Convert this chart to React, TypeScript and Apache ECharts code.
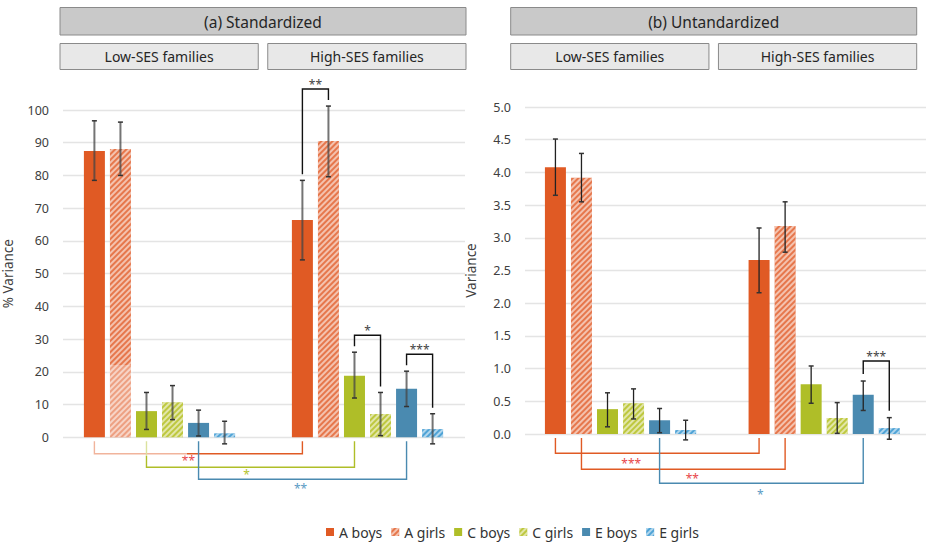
import React, { useEffect, useRef } from 'react';
import * as echarts from 'echarts';

// ---------- data ----------
const seriesNames = ['A boys', 'A girls', 'C boys', 'C girls', 'E boys', 'E girls'];
const groups = ['Low-SES families', 'High-SES families'];

// (a) Standardized, % variance
const stdLow = [87.5, 88.1, 8.0, 10.7, 4.4, 1.2];
const stdHigh = [66.4, 90.5, 18.8, 7.1, 14.8, 2.5];
const stdLowCI = [[78.5, 96.7], [80.0, 96.3], [2.4, 13.7], [5.4, 15.8], [0.4, 8.3], [-2.0, 4.9]];
const stdHighCI = [[54.2, 78.5], [79.6, 101.2], [12.0, 26.0], [0.5, 13.7], [9.4, 20.2], [-2.0, 7.2]];

// (b) Unstandardized, variance
const unLow = [4.08, 3.92, 0.38, 0.47, 0.21, 0.06];
const unHigh = [2.66, 3.18, 0.76, 0.245, 0.6, 0.09];
const unLowCI = [[3.65, 4.51], [3.55, 4.29], [0.11, 0.63], [0.23, 0.69], [0.02, 0.39], [-0.09, 0.21]];
const unHighCI = [[2.16, 3.15], [2.78, 3.55], [0.47, 1.04], [0.01, 0.48], [0.36, 0.81], [-0.08, 0.25]];

// significance within a group: [group, seriesA, seriesB, label]
const stdWithinSig: [number, number, number, string][] = [[1, 0, 1, '**'], [1, 2, 3, '*'], [1, 4, 5, '***']];
const unWithinSig: [number, number, number, string][] = [[1, 4, 5, '***']];
// significance between low & high SES for one series: [series, label]
const stdBetweenSig: [number, string][] = [[0, '**'], [2, '*'], [4, '**']];
const unBetweenSig: [number, string][] = [[0, '***'], [1, '**'], [4, '*']];

// axis ticks
const stdAxis = { min: 0, max: 100, interval: 10 };
const unAxis = { min: 0, max: 5, interval: 0.5 };

// ---------- style ----------
const FONT = '"Noto Sans", sans-serif';
const BAR_W = 21;
const BAR_GAP = 0.24;
const STEP = BAR_W * (1 + BAR_GAP);
const ORANGE = '#E05A24';
const GREEN = '#AFBE28';
const BLUE = '#4A8AB0';
const LIGHTBLUE = '#4FA3D6';
const lineColors = [ORANGE, ORANGE, GREEN, GREEN, BLUE, BLUE];
const labelColors = ['#E8474A', '#E8474A', '#B5C42E', '#B5C42E', '#5B9BC4', '#5B9BC4'];

const stripe = (c: string) => ({
  symbol: 'rect',
  symbolSize: 1,
  color: c,
  dashArrayX: [1, 0],
  dashArrayY: [1.5, 1.5],
  rotation: -Math.PI / 4,
});

const itemStyles: any[] = [
  { color: ORANGE },
  { color: '#E6774C', decal: stripe('rgba(255,255,255,0.55)') },
  { color: GREEN },
  { color: '#BEC83F', decal: stripe('rgba(255,255,255,0.55)') },
  { color: BLUE },
  { color: LIGHTBLUE, decal: stripe('rgba(255,255,255,0.55)') },
];

function buildPanel(
  axisOffset: number,
  low: number[],
  high: number[],
  lowCI: number[][],
  highCI: number[][],
  within: [number, number, number, string][],
  between: [number, string][],
  cfg: {
    errColor: string;
    errWidth: number;
    legGap: number;
    rise: number;
    levels: number[];
    labelDx: number[];
    labelDy: number[];
  }
) {
  const series: any[] = [];
  seriesNames.forEach((name, i) => {
    series.push({
      type: 'bar',
      name,
      xAxisIndex: axisOffset,
      yAxisIndex: axisOffset,
      data: [low[i], high[i]],
      barWidth: BAR_W,
      barGap: `${BAR_GAP * 100}%`,
      itemStyle: itemStyles[i],
      silent: true,
    });
  });

  const ci = [lowCI, highCI];
  const errData: number[][] = [];
  [0, 1].forEach((g) => {
    seriesNames.forEach((_, i) => errData.push([g, i, ci[g][i][0], ci[g][i][1]]));
  });
  series.push({
    type: 'custom',
    xAxisIndex: axisOffset,
    yAxisIndex: axisOffset,
    z: 5,
    silent: true,
    encode: { x: 0, y: 2 },
    data: errData,
    renderItem: (_p: any, api: any) => {
      const g = api.value(0);
      const i = api.value(1);
      const cx = api.coord([g, 0])[0] + (i - 2.5) * STEP;
      const yl = api.coord([g, api.value(2)])[1];
      const yh = api.coord([g, api.value(3)])[1];
      const st = { stroke: cfg.errColor, lineWidth: cfg.errWidth };
      return {
        type: 'group',
        children: [
          { type: 'line', shape: { x1: cx, y1: yl, x2: cx, y2: yh }, style: st },
          { type: 'line', shape: { x1: cx - 2.5, y1: yl, x2: cx + 2.5, y2: yl }, style: { stroke: '#333', lineWidth: 1.5 } },
          { type: 'line', shape: { x1: cx - 2.5, y1: yh, x2: cx + 2.5, y2: yh }, style: { stroke: '#333', lineWidth: 1.5 } },
        ],
      };
    },
  });

  // within-group brackets (top)
  series.push({
    type: 'custom',
    xAxisIndex: axisOffset,
    yAxisIndex: axisOffset,
    z: 6,
    silent: true,
    encode: { x: 0, y: 3 },
    data: within.map(([g, a, b]) => [g, a, b, ci[g][a][1], ci[g][b][1]]),
    renderItem: (p: any, api: any) => {
      const g = api.value(0);
      const a = api.value(1);
      const b = api.value(2);
      const base = api.coord([g, 0])[0];
      const xa = base + (a - 2.5) * STEP;
      const xb = base + (b - 2.5) * STEP;
      const ya = api.coord([g, api.value(3)])[1] - cfg.legGap;
      const yb = api.coord([g, api.value(4)])[1] - cfg.legGap;
      const yt = Math.min(ya, yb) + cfg.legGap - cfg.rise;
      return {
        type: 'group',
        children: [
          {
            type: 'polyline',
            shape: { points: [[xa, ya], [xa, yt], [xb, yt], [xb, yb]] },
            style: { stroke: '#111', lineWidth: 1.4, fill: 'none' },
          },
          {
            type: 'text',
            style: {
              text: within[p.dataIndex][3],
              x: (xa + xb) / 2,
              y: yt - 5,
              align: 'center',
              verticalAlign: 'middle',
              fontSize: 12,
              fontFamily: FONT,
              fill: '#444',
            },
          },
        ],
      };
    },
  });

  // between-group brackets (bottom)
  series.push({
    type: 'custom',
    xAxisIndex: axisOffset,
    yAxisIndex: axisOffset,
    z: 6,
    silent: true,
    encode: { x: 0, y: 1 },
    data: between.map(([i], k) => [i, 0, k]),
    renderItem: (p: any, api: any) => {
      const i = api.value(0);
      const k = api.value(2);
      const p0 = api.coord([0, 0]);
      const p1 = api.coord([1, 0]);
      const x0 = p0[0] + (i - 2.5) * STEP;
      const x1 = p1[0] + (i - 2.5) * STEP;
      const y0 = p0[1];
      const yl = y0 + cfg.levels[k];
      return {
        type: 'group',
        children: [
          {
            type: 'polyline',
            shape: { points: [[x0, y0 + 4], [x0, yl], [x1, yl], [x1, y0 + 4]] },
            style: { stroke: lineColors[i], lineWidth: 1.4, fill: 'none' },
          },
          {
            type: 'text',
            style: {
              text: between[p.dataIndex][1],
              x: (x0 + x1) / 2 + cfg.labelDx[k],
              y: yl + cfg.labelDy[k],
              align: 'center',
              verticalAlign: 'middle',
              fontSize: 12,
              fontFamily: FONT,
              fill: labelColors[i],
            },
          },
        ],
      };
    },
  });
  return series;
}

function headerGraphics(x: number, w: number, title: string, subGap: number) {
  const subW = (w - subGap) / 2;
  const els: any[] = [
    { type: 'rect', shape: { x, y: 7.5, width: w, height: 27.5 }, style: { fill: '#C9C9C9', stroke: '#8A8A8A', lineWidth: 1 } },
    { type: 'text', style: { text: title, x: x + w / 2, y: 21.5, align: 'center', verticalAlign: 'middle', fontSize: 15.5, fontFamily: FONT, fill: '#262626' } },
  ];
  groups.forEach((gname, gi) => {
    const sx = x + gi * (subW + subGap);
    els.push({ type: 'rect', shape: { x: sx, y: 43.5, width: subW, height: 26 }, style: { fill: '#E8E8E8', stroke: '#8A8A8A', lineWidth: 1 } });
    els.push({ type: 'text', style: { text: gname, x: sx + subW / 2, y: 56.5, align: 'center', verticalAlign: 'middle', fontSize: 14, fontFamily: FONT, fill: '#262626' } });
  });
  return els;
}

const frameY = (ax: { min: number; max: number; interval: number }, name: string, gap: number, fmt: (v: number) => string) => ({
  type: 'value',
  min: ax.min,
  max: ax.max,
  interval: ax.interval,
  name,
  nameLocation: 'middle',
  nameGap: gap,
  nameTextStyle: { fontSize: 13.5, fontFamily: FONT, color: '#404040' },
  axisLine: { show: false },
  axisTick: { show: false },
  axisLabel: { margin: 14, fontSize: 12.5, fontFamily: FONT, color: '#404040', formatter: fmt },
  splitLine: { show: true, lineStyle: { color: '#E4E4E4', width: 1.3 } },
});

const hiddenY = (ax: { min: number; max: number; interval: number }) => ({
  type: 'value',
  min: ax.min,
  max: ax.max,
  show: false,
  splitLine: { show: false },
});

const catX = (gridIndex: number) => ({
  type: 'category',
  gridIndex,
  data: groups,
  show: false,
  boundaryGap: true,
});

export default function App() {
  const ref = useRef<HTMLDivElement>(null);
  useEffect(() => {
    if (!ref.current) return;
    const chart = echarts.init(ref.current, undefined, { renderer: 'svg' });
    const series = [
      ...buildPanel(0, stdLow, stdHigh, stdLowCI, stdHighCI, stdWithinSig, stdBetweenSig, {
        errColor: 'rgba(70,70,70,0.75)',
        errWidth: 2,
        legGap: 6,
        rise: 17,
        levels: [16.5, 30, 42],
        labelDx: [-10, -4, -2],
        labelDy: [7, 7, 9],
      }),
      ...buildPanel(2, unLow, unHigh, unLowCI, unHighCI, unWithinSig, unBetweenSig, {
        errColor: '#222',
        errWidth: 1.3,
        legGap: 7,
        rise: 20,
        levels: [19.3, 35.3, 49.3],
        labelDx: [-26, 9, -1],
        labelDy: [10, 9, 11],
      }),
    ];
    chart.setOption({
      animation: false,
      backgroundColor: '#fff',
      textStyle: { fontFamily: FONT },
      grid: [
        { left: 55.5, top: 110, width: 416, height: 327.3 },
        { left: 62, top: 110, width: 403, height: 327.3 },
        { left: 518.7, top: 107, width: 416, height: 327 },
        { left: 525, top: 107, width: 401, height: 327 },
      ],
      xAxis: [catX(0), catX(1), catX(2), catX(3)],
      yAxis: [
        { ...hiddenY(stdAxis), gridIndex: 0 },
        { ...frameY(stdAxis, '% Variance', 48, (v: number) => String(v)), gridIndex: 1 },
        { ...hiddenY(unAxis), gridIndex: 2 },
        { ...frameY(unAxis, 'Variance', 47, (v: number) => v.toFixed(1)), gridIndex: 3 },
      ],
      legend: {
        data: seriesNames,
        left: 321,
        top: 520,
        icon: 'rect',
        itemWidth: 8,
        itemHeight: 8,
        itemGap: 9,
        selectedMode: false,
        textStyle: { fontSize: 14, fontFamily: FONT, color: '#333' },
      },
      graphic: [
        ...headerGraphics(60, 406, '(a) Standardized', 9.5),
        ...headerGraphics(510.7, 406, '(b) Untandardized', 9.5),
        { type: 'rect', z: 50, shape: { x: 107, y: 365, width: 26, height: 72 }, style: { fill: 'rgba(255,255,255,0.3)' } },
        { type: 'rect', z: 50, shape: { x: 92, y: 438, width: 95, height: 18 }, style: { fill: 'rgba(255,255,255,0.55)' } },
      ],
      series,
    });
    return () => chart.dispose();
  }, []);
  return <div ref={ref} style={{ position: 'fixed', left: 0, top: 0, width: 926, height: 543 }} />;
}
